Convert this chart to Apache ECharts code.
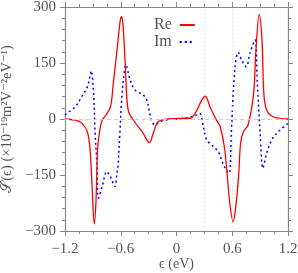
<!DOCTYPE html>
<html><head><meta charset="utf-8">
<script src="https://cdn.jsdelivr.net/npm/echarts@6/dist/echarts.min.js"></script>
<style>html,body{margin:0;padding:0;background:#fff}#c{width:298px;height:273px}</style>
</head><body><div id="c"></div>
<script>
const xTicks = [-1.2, -0.6, 0, 0.6, 1.2];
const yTicks = [-300, -150, 0, 150, 300];
const reX = [-1.2,-1.09,-1.02,-0.96,-0.93,-0.91,-0.885,-0.866,-0.85,-0.83,-0.80,-0.76,-0.71,-0.68,-0.64,-0.605,-0.59,-0.575,-0.55,-0.52,-0.45,-0.37,-0.29,-0.25,-0.2,-0.1,0,0.1,0.15,0.22,0.27,0.31,0.36,0.43,0.47,0.52,0.57,0.61,0.64,0.67,0.69,0.72,0.77,0.83,0.855,0.89,0.92,0.94,0.97,1.04,1.2];
const reY = [0,-3,-11,-34,-83,-172,-281,-217,-83,-38,-3,10,33,96,185,265,274,250,140,24,-8,-34,-63,-38,-8,0,1,2,2,24,50,61,33,-3,-20,-83,-217,-275,-230,-145,-65,-34,-16,69,185,281,212,69,24,6,0];
const imX = [-1.2,-1.09,-1.02,-0.96,-0.935,-0.917,-0.895,-0.875,-0.855,-0.84,-0.80,-0.75,-0.71,-0.665,-0.64,-0.63,-0.61,-0.59,-0.565,-0.545,-0.50,-0.447,-0.357,-0.32,-0.27,-0.23,-0.18,-0.07,0.05,0.145,0.22,0.25,0.29,0.325,0.38,0.45,0.50,0.547,0.57,0.59,0.63,0.665,0.70,0.75,0.79,0.845,0.87,0.90,0.93,0.97,1.025,1.095,1.2];
const imY = [11,33,60,86,110,129,80,-40,-128,-212,-181,-141,-155,-181,-145,-128,-40,51,120,145,105,78,64,51,-3,-16,-7,-1,1,5,11,15,-21,-56,-70,-88,-119,-141,-145,-38,140,178,158,140,176,212,96,-38,-132,-92,-56,-34,-12];
const vLines = [0.3, 0.6];

const zip = (a, b) => a.map((v, i) => [v, b[i]]);
const font = '"Liberation Serif","DejaVu Serif",serif';
const gray = '#888';
const txt = '#555';
const fmt = v => {
  const r = Math.round(v * 100) / 100;
  if (!xTicks.some(t => Math.abs(t - r) < 1e-6)) return '';
  return (r < 0 ? '\u2212' : '') + (r === 0 ? '0' : Math.abs(r).toFixed(1));
};
const fmtY = v => (v < 0 ? '\u2212' : '') + Math.abs(v);
const axisBase = (split) => ({
  axisLine: {show: true, onZero: false, lineStyle: {color: gray, width: 1.2}},
  axisTick: {show: true, inside: false, length: 5, lineStyle: {color: gray}},
  minorTick: {show: true, splitNumber: split, length: 3, lineStyle: {color: gray}},
  splitLine: {show: false}
});
const chart = echarts.init(document.getElementById('c'), null, {renderer: 'canvas'});
chart.setOption({
  animation: false,
  grid: {left: 65, right: 10, top: 7, bottom: 42, containLabel: false, outerBoundsMode: 'none'},
  legend: {
    left: 149, top: 12, orient: 'vertical', align: 'right', itemGap: 1,
    itemWidth: 15, itemHeight: 12,
    itemStyle: {color: 'rgba(0,0,0,0)', borderWidth: 0, opacity: 0},
    textStyle: {fontFamily: font, fontSize: 16, color: txt, padding: [0, 3, 0, 0]},
    data: ['Re', 'Im']
  },
  xAxis: [
    Object.assign({type: 'value', min: -1.2, max: 1.2, interval: 0.6, position: 'bottom',
      axisLabel: {formatter: fmt, fontFamily: font, fontSize: 15, color: txt, margin: 11},
      name: '\u03f5 (eV)', nameLocation: 'middle', nameGap: 26, nameMoveOverlap: false,
      nameTextStyle: {fontFamily: font, fontSize: 14, color: txt}}, axisBase(4)),
    Object.assign({type: 'value', min: -1.2, max: 1.2, interval: 0.6, position: 'top',
      axisLabel: {show: false}}, axisBase(4))
  ],
  yAxis: [
    Object.assign({type: 'value', min: -300, max: 300, interval: 150, position: 'left',
      axisLabel: {formatter: fmtY, fontFamily: font, fontSize: 15, color: txt, margin: 9},
      name: '\ud835\udcae(\u03f5) (\u00d710\u207b\u00b9\u2079m\u00b2V\u207b\u00b2eV\u207b\u00b9)',
      nameLocation: 'middle', nameGap: 50, nameRotate: 90, nameMoveOverlap: false,
      nameTextStyle: {fontFamily: font, fontSize: 14.5, color: txt}}, axisBase(5)),
    Object.assign({type: 'value', min: -300, max: 300, interval: 150, position: 'right',
      axisLabel: {show: false}}, axisBase(5))
  ],
  series: [
    {name: 'Re', type: 'line', data: zip(reX, reY), smooth: 0.35, symbol: 'none',
      lineStyle: {color: '#ff0000', width: 1.3}, itemStyle: {color: '#ff0000'}, z: 3,
      markLine: {silent: true, symbol: 'none', label: {show: false},
        data: vLines.map(v => ({xAxis: v})).concat([{yAxis: 0, lineStyle: {color: '#f4b8d8', type: [4, 3], width: 1}}]),
        lineStyle: {color: '#cfcfcf', type: [1, 3], width: 1}}},
    {name: 'Im', type: 'line', data: zip(imX, imY), smooth: 0.35, symbol: 'none',
      lineStyle: {color: '#0000ff', width: 1.5, type: [2, 3]}, itemStyle: {color: '#0000ff'}, z: 2}
  ]
});
</script></body></html>
